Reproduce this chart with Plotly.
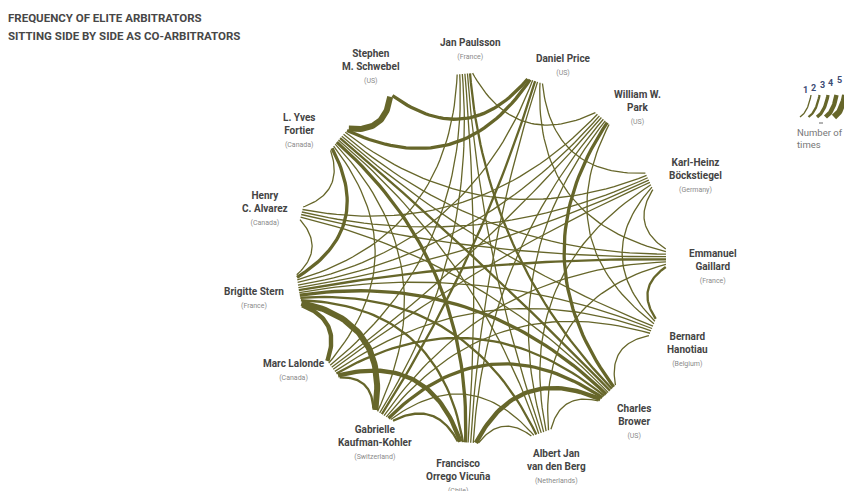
import math
import plotly.graph_objects as go

# ---------------- data ----------------
arbitrators = ["Emmanuel<br>Gaillard", "Karl-Heinz<br>Böckstiegel", "William W.<br>Park",
               "Daniel Price", "Jan Paulsson", "Stephen<br>M. Schwebel", "L. Yves<br>Fortier",
               "Henry<br>C. Alvarez", "Brigitte Stern", "Marc Lalonde",
               "Gabrielle<br>Kaufman-Kohler", "Francisco<br>Orrego Vicuña",
               "Albert Jan<br>van den Berg", "Charles<br>Brower", "Bernard<br>Hanotiau"]
countries = ["France", "Germany", "US", "US", "France", "US", "Canada", "Canada", "France",
             "Canada", "Switzerland", "Chile", "Netherlands", "US", "Belgium"]
keys = ["Gaillard", "Bockstiegel", "Park", "Price", "Paulsson", "Schwebel", "Fortier",
        "Alvarez", "Stern", "Lalonde", "Kaufmann", "Orrego", "vdBerg", "Brower", "Hanotiau"]

link_a = ["Schwebel", "Schwebel", "Fortier", "Fortier", "Fortier", "Fortier", "Fortier", "Fortier",
          "Fortier", "Fortier", "Fortier", "Fortier", "Fortier", "Alvarez", "Alvarez", "Alvarez",
          "Alvarez", "Alvarez", "Stern", "Stern", "Stern", "Stern", "Stern", "Stern", "Stern",
          "Stern", "Stern", "Stern", "Stern", "Lalonde", "Lalonde", "Lalonde", "Lalonde",
          "Lalonde", "Lalonde", "Lalonde", "Kaufmann", "Kaufmann", "Kaufmann", "Kaufmann",
          "Kaufmann", "Kaufmann", "Kaufmann", "Orrego", "Orrego", "Orrego", "Orrego", "Orrego",
          "vdBerg", "vdBerg", "vdBerg", "vdBerg", "vdBerg", "Brower", "Brower", "Brower",
          "Hanotiau", "Hanotiau", "Hanotiau", "Gaillard", "Gaillard", "Bockstiegel", "Park"]
link_b = ["Fortier", "Price", "Price", "Stern", "Alvarez", "Lalonde", "Kaufmann", "Orrego",
          "vdBerg", "Brower", "Hanotiau", "Gaillard", "Bockstiegel", "Stern", "Park",
          "Bockstiegel", "Gaillard", "Brower", "Lalonde", "Kaufmann", "Orrego", "Brower",
          "Hanotiau", "Gaillard", "Bockstiegel", "Park", "Price", "Paulsson", "vdBerg",
          "Kaufmann", "Orrego", "Brower", "Hanotiau", "Bockstiegel", "Park", "Paulsson",
          "Orrego", "vdBerg", "Brower", "Paulsson", "Price", "Hanotiau", "Gaillard",
          "vdBerg", "Brower", "Paulsson", "Price", "Park", "Brower", "Paulsson", "Park",
          "Bockstiegel", "Gaillard", "Park", "Paulsson", "Hanotiau", "Gaillard", "Park",
          "Bockstiegel", "Bockstiegel", "Price", "Price", "Paulsson"]
link_times = [5, 3, 3, 3, 1, 1, 1, 3, 1, 2, 1, 1, 1, 1, 1, 1, 1, 1, 4, 5, 2, 3, 1, 2, 1, 1, 1, 1, 2,
              2, 4, 2, 1, 1, 1, 1, 2, 1, 3, 1, 2, 1, 1, 1, 4, 1, 1, 1, 1, 1, 1, 1, 1, 3, 2, 1,
              2, 1, 1, 1, 1, 1, 1]
legend_times = [1, 2, 3, 4, 5]

title_lines = ["FREQUENCY OF ELITE ARBITRATORS", "SITTING SIDE BY SIDE AS CO-ARBITRATORS"]
legend_caption = "Number of<br>times"

# ---------------- styling / geometry ----------------
# page body has an 8px margin: the figure is shifted so that axis units equal window pixels
PAGE_MARGIN = 8
W, H = 852, 491
CX, CY, R = 481.0, 258.0, 185.0
# node placement around the circle (degrees, counter-clockwise from east)
NODE_ANGLE = [0, 24.5, 49, 73, 95, 119, 140, 166, 190, 217, 238, 266, 289, 313, 338]
COLOR = "#66662a"
WIDTH = {1: 1.3, 2: 2.3, 3: 3.3, 4: 4.4, 5: 6.0}
FAN = 0.8  # degrees between neighbouring endpoints at a node
# label placement (polar, around the same centre), one per arbitrator
LABEL_ANGLE = [-2, 21, 44, 67, 93, 120, 145, 167, 190, 211, 240, 264, 290, 313, 336]
LABEL_RADIUS = [232, 230, 217, 210, 209, 221, 222, 222, 230, 218, 213, 220, 222, 224, 226]

n = len(keys)
idx = {k: i for i, k in enumerate(keys)}
node_ang = NODE_ANGLE


def pt(ang_deg, r=R):
    a = math.radians(ang_deg)
    return CX + r * math.cos(a), CY - r * math.sin(a)


def bezier(p0, c, p2, steps):
    xs, ys = [], []
    for k in range(steps + 1):
        t = k / steps
        xs.append((1 - t) ** 2 * p0[0] + 2 * (1 - t) * t * c[0] + t * t * p2[0])
        ys.append((1 - t) ** 2 * p0[1] + 2 * (1 - t) * t * c[1] + t * t * p2[1])
    return xs, ys


# endpoint offsets at each node, ordered to avoid crossings near the node
ends = {i: [] for i in range(n)}
for li, (a, b) in enumerate(zip(link_a, link_b)):
    ia, ib = idx[a], idx[b]
    ends[ia].append((li, ib))
    ends[ib].append((li, ia))
offset = {}
for i in range(n):
    lst = sorted(ends[i], key=lambda t: -((node_ang[t[1]] - node_ang[i]) % 360))
    m = len(lst)
    for j, (li, other) in enumerate(lst):
        offset[(li, i)] = (j - (m - 1) / 2) * FAN

fig = go.Figure()

order = sorted(range(len(link_a)), key=lambda k: link_times[k])
for li in order:
    ia, ib = idx[link_a[li]], idx[link_b[li]]
    aa = node_ang[ia] + offset[(li, ia)]
    ab = node_ang[ib] + offset[(li, ib)]
    p0 = pt(aa)
    p2 = pt(ab)
    d = abs((ab - aa + 180) % 360 - 180)
    mx, my = (p0[0] + p2[0]) / 2, (p0[1] + p2[1]) / 2
    s = 1 - math.sin(math.radians(d / 2))
    c = (CX + (mx - CX) * s, CY + (my - CY) * s)
    xs, ys = bezier(p0, c, p2, 40)
    fig.add_trace(go.Scatter(x=xs, y=ys, mode="lines", hoverinfo="skip",
                             line=dict(color=COLOR, width=WIDTH[link_times[li]])))

# node labels
for i in range(n):
    lx, ly = pt(LABEL_ANGLE[i], LABEL_RADIUS[i])
    txt = ("<b>" + arbitrators[i] + "</b><br><span style='font-size:7px;color:#8a8a8a'>("
           + countries[i] + ")</span>")
    fig.add_annotation(x=lx, y=ly, text=txt, showarrow=False, xanchor="center", yanchor="middle",
                       font=dict(family="Roboto", size=10, color="#444444"), align="center")

# title (paper coordinates, so it is not hidden at the axis edge)
for j, line in enumerate(title_lines):
    fig.add_annotation(x=0, y=1 - (18 + 18 * j - PAGE_MARGIN) / (H - PAGE_MARGIN),
                       xref="paper", yref="paper", text="<b>" + line + "</b>", showarrow=False,
                       xanchor="left", yanchor="middle", xshift=-2,
                       font=dict(family="Roboto", size=11.5, color="#474747"))

# legend strokes
for j, w in enumerate(legend_times):
    bx = 800 + j * 8.5
    xs, ys = bezier((bx, 117), (bx + 8, 112), (bx + 11, 95), 20)
    fig.add_trace(go.Scatter(x=xs, y=ys, mode="lines", hoverinfo="skip",
                             line=dict(color=COLOR, width=WIDTH[w])))
    fig.add_annotation(x=bx + 5, y=90 - j * 2.5, text="<b>%d</b>" % w, showarrow=False,
                       xanchor="center", yanchor="middle",
                       font=dict(family="Roboto", size=9, color="#3d4c74"))

fig.add_trace(go.Scatter(x=[819, 823], y=[123, 123], mode="lines", hoverinfo="skip",
                         line=dict(color="#666666", width=1)))
fig.add_annotation(x=795, y=125, text=legend_caption, showarrow=False, xanchor="left",
                   yanchor="top", align="left",
                   font=dict(family="Roboto", size=9.5, color="#777777"))

fig.update_layout(width=W - PAGE_MARGIN, height=H - PAGE_MARGIN,
                  margin=dict(l=0, r=0, t=0, b=0),
                  paper_bgcolor="white", plot_bgcolor="white", showlegend=False,
                  xaxis=dict(range=[PAGE_MARGIN, W], visible=False, fixedrange=True),
                  yaxis=dict(range=[H, PAGE_MARGIN], visible=False, fixedrange=True))

fig.write_html("out.html")
